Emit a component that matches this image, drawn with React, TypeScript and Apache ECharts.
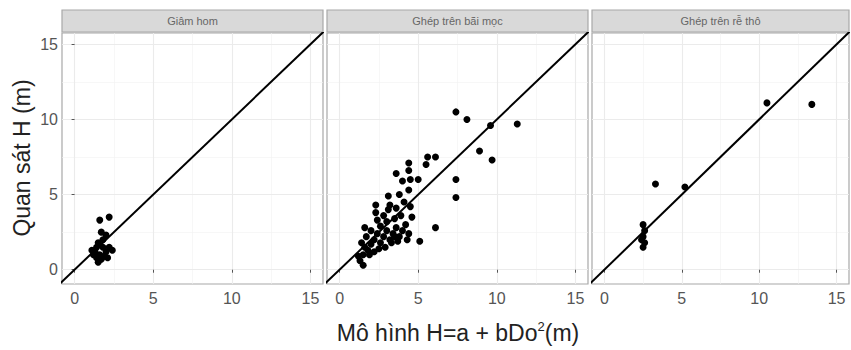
import React, { useEffect, useRef } from "react";
import * as echarts from "echarts";

const facetTitles = ["Giâm hom", "Ghép trên bãi mọc", "Ghép trên rễ thô"];
const majorTicks = [0, 5, 10, 15];
const minorTicks = [2.5, 7.5, 12.5];

const panel1: number[][] = [
  [1.6, 3.3], [2.2, 3.5], [1.7, 2.5], [2.0, 2.3], [1.5, 1.8], [1.8, 1.5], [1.3, 1.2],
  [1.6, 1.0], [2.0, 1.2], [1.4, 0.8], [1.7, 0.7], [2.2, 1.5], [1.2, 1.0], [1.9, 0.9],
  [1.5, 0.5], [2.4, 1.3], [1.1, 1.3], [1.8, 2.0], [1.4, 1.5], [2.1, 0.8],
];

const panel2: number[][] = [
  [7.4, 10.5], [8.1, 10.0], [9.6, 9.6], [11.3, 9.7], [8.9, 7.9], [9.7, 7.3], [7.4, 6.0],
  [7.4, 4.8], [6.1, 2.8], [5.1, 1.9], [5.6, 7.5], [6.1, 7.5], [4.4, 7.1], [4.4, 6.6],
  [3.6, 6.4], [5.5, 7.0], [4.0, 5.9], [4.5, 6.0], [5.0, 6.0], [4.4, 5.3], [3.1, 4.9],
  [2.3, 4.3], [2.3, 3.8], [3.2, 4.3], [4.6, 3.5], [4.5, 4.2],
  [1.3, 0.6], [1.5, 1.0], [1.6, 1.5], [1.4, 1.8], [1.8, 1.3], [2.0, 1.7], [1.7, 2.2],
  [2.2, 2.0], [2.0, 2.6], [2.4, 2.4], [1.9, 1.0], [2.6, 1.8], [2.8, 2.2], [3.0, 2.6],
  [2.6, 2.9], [3.2, 2.0], [3.4, 2.4], [3.0, 3.2], [3.6, 2.8], [3.8, 2.2], [4.0, 2.6],
  [3.5, 3.4], [3.9, 3.6], [4.2, 3.0], [4.4, 2.4], [3.3, 1.8], [2.4, 3.3], [2.8, 3.6],
  [3.1, 4.0], [3.6, 4.1], [4.1, 4.5], [3.8, 5.0], [1.6, 2.8], [2.2, 1.2], [2.9, 1.5],
  [3.7, 1.9], [4.3, 2.0], [1.2, 0.9], [2.5, 1.4], [3.5, 2.2], [1.5, 0.3],
];

const panel3: number[][] = [
  [10.5, 11.1], [13.4, 11.0], [3.3, 5.7], [5.2, 5.5], [2.5, 3.0], [2.6, 2.6],
  [2.5, 2.2], [2.6, 1.8], [2.5, 1.5], [2.4, 2.0],
];

const panels = [panel1, panel2, panel3];
const xMin = -0.8, xMax = 15.8, yMin = -0.95, yMax = 15.75;

export default function App() {
  const ref = useRef<HTMLDivElement>(null);
  useEffect(() => {
    if (!ref.current) return;
    const chart = echarts.init(ref.current, null, { renderer: "svg" });
    const lefts = [62, 327, 592];
    const widths = [261, 261, 257];
    const top = 33, height = 251;
    const grids = lefts.map((l, i) => ({
      left: l, top, width: widths[i], height,
      show: true, borderColor: "#a8a8a8", borderWidth: 1.2, backgroundColor: "#fff",
    }));
    const xAxes = panels.map((_, i) => ({
      type: "value", gridIndex: i, min: xMin, max: xMax,
      axisLine: { show: false },
      splitLine: { show: false },
      axisTick: { show: true, customValues: majorTicks, length: 3, lineStyle: { color: "#555" } },
      axisLabel: { customValues: majorTicks, color: "#555", fontSize: 16, margin: 6, fontFamily: "Liberation Sans" },
    }));
    const yAxes = panels.map((_, i) => ({
      type: "value", gridIndex: i, min: yMin, max: yMax,
      axisLine: { show: false },
      splitLine: { show: false },
      axisTick: { show: i === 0, customValues: majorTicks, length: 3, lineStyle: { color: "#555" } },
      axisLabel: { show: i === 0, customValues: majorTicks, color: "#555", fontSize: 16, margin: 4, fontFamily: "Liberation Sans" },
    }));
    const series: any[] = [];
    panels.forEach((pts, i) => {
      series.push({
        type: "line", xAxisIndex: i, yAxisIndex: i, silent: true, symbol: "none",
        data: [], clip: true, z: 0,
        markLine: {
          silent: true, symbol: "none", label: { show: false }, animation: false, z: 0,
          data: [
            ...minorTicks.map((v) => ({ xAxis: v, lineStyle: { color: "#f2f2f2", width: 0.6, type: "solid" } })),
            ...minorTicks.map((v) => ({ yAxis: v, lineStyle: { color: "#f2f2f2", width: 0.6, type: "solid" } })),
            ...majorTicks.map((v) => ({ xAxis: v, lineStyle: { color: "#ebebeb", width: 1.1, type: "solid" } })),
            ...majorTicks.map((v) => ({ yAxis: v, lineStyle: { color: "#ebebeb", width: 1.1, type: "solid" } })),
          ],
        },
      });
      series.push({
        type: "line", xAxisIndex: i, yAxisIndex: i, silent: true, symbol: "none",
        data: [[-2, -2], [17, 17]], clip: true,
        lineStyle: { color: "#000", width: 2 },
        z: 3,
      });
      series.push({
        type: "scatter", xAxisIndex: i, yAxisIndex: i, data: pts, symbolSize: 7,
        itemStyle: { color: "#000", opacity: 1 }, z: 4,
      });
    });
    const graphic: any[] = [];
    lefts.forEach((l, i) => {
      graphic.push({
        type: "rect", shape: { x: l, y: 10, width: widths[i], height: 22 },
        style: { fill: "#d9d9d9", stroke: "#a8a8a8", lineWidth: 1.2 },
      });
      graphic.push({
        type: "text", x: l + widths[i] / 2, y: 21,
        style: { text: facetTitles[i], fill: "#666", fontSize: 11, align: "center", verticalAlign: "middle", fontFamily: "Liberation Sans" },
      });
    });
    graphic.push({
      type: "text", x: 458, y: 333,
      style: {
        text: "Mô hình H=a + bDo{sup|2}(m)", fill: "#222", fontSize: 23, align: "center", verticalAlign: "middle",
        fontFamily: "Liberation Sans",
        rich: { sup: { fontSize: 13, verticalAlign: "top", padding: [0, 0, 14, 0], fill: "#222" } },
      },
    });
    graphic.push({
      type: "text", x: 22, y: 158, rotation: Math.PI / 2,
      style: { text: "Quan sát H (m)", fill: "#222", fontSize: 23, align: "center", verticalAlign: "middle", fontFamily: "Liberation Sans" },
    });
    chart.setOption({
      animation: false,
      backgroundColor: "#fff",
      grid: grids,
      xAxis: xAxes,
      yAxis: yAxes,
      series,
      graphic,
    });
    return () => chart.dispose();
  }, []);
  return <div ref={ref} style={{ position: "fixed", left: 0, top: 0, width: 851, height: 350 }} />;
}
